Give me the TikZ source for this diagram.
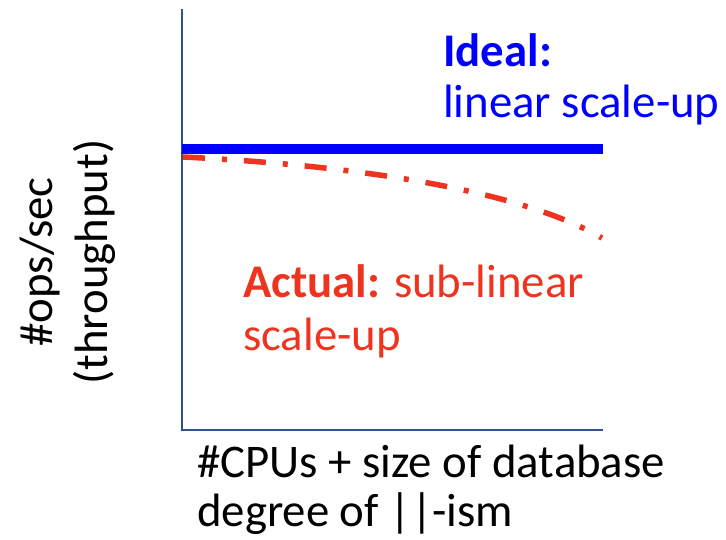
\documentclass[tikz,border=0pt]{standalone}
\usepackage{fontspec}
\setmainfont{Carlito}
\definecolor{axisblue}{RGB}{47,82,143}
\definecolor{idealblue}{RGB}{0,0,255}
\definecolor{actualred}{RGB}{238,52,30}
\begin{document}
\begin{tikzpicture}[x=1pt,y=-1pt,
  axisline/.style={draw=axisblue,line width=2.5pt},
  idealline/.style={draw=idealblue,line width=10pt},
  actualline/.style={draw=actualred,line width=5.5pt,
    dash pattern=on 22pt off 17pt on 5pt off 17pt},
  lbl/.style={inner sep=0pt,font=\fontsize{46.8}{52}\selectfont},
]
\useasboundingbox (0,0) rectangle (726,539);

% axes
\coordinate (ytop) at (182,9);
\coordinate (origin) at (182,430);
\coordinate (xend) at (603,430);
\draw[axisline] (ytop) -- (origin) -- (xend);

% ideal: flat throughput
\coordinate (i0) at (182,149);
\coordinate (i1) at (603,149);
\draw[idealline] (i0) -- (i1);

% actual: throughput falls off
\coordinate (a0) at (183,157);
\coordinate (a1) at (602,238);
\draw[actualline] (a0) .. controls (350,165) and (518,189) .. (a1);

% labels
\node[lbl,anchor=base west,text=idealblue] (ideal1) at (443,66) {\textbf{Ideal:}};
\node[lbl,anchor=base west,text=idealblue] (ideal2) at (443,117) {linear scale-up};

\node[lbl,anchor=base west,text=actualred] (act1) at (243,297) {\textbf{Actual:} sub-linear};
\node[lbl,anchor=base west,text=actualred] (act2) at (243,350) {scale-up};

\node[lbl,anchor=base west] (xl1) at (197,477) {\#CPUs + size of database};
\node[lbl,anchor=base west] (xl2) at (197,526.5) {degree of ||-ism};

\node[lbl,anchor=base,rotate=90] (yl1) at (52,262) {\#ops/sec};
\node[lbl,anchor=base,rotate=90] (yl2) at (107,262) {(throughput)};
\end{tikzpicture}
\end{document}
